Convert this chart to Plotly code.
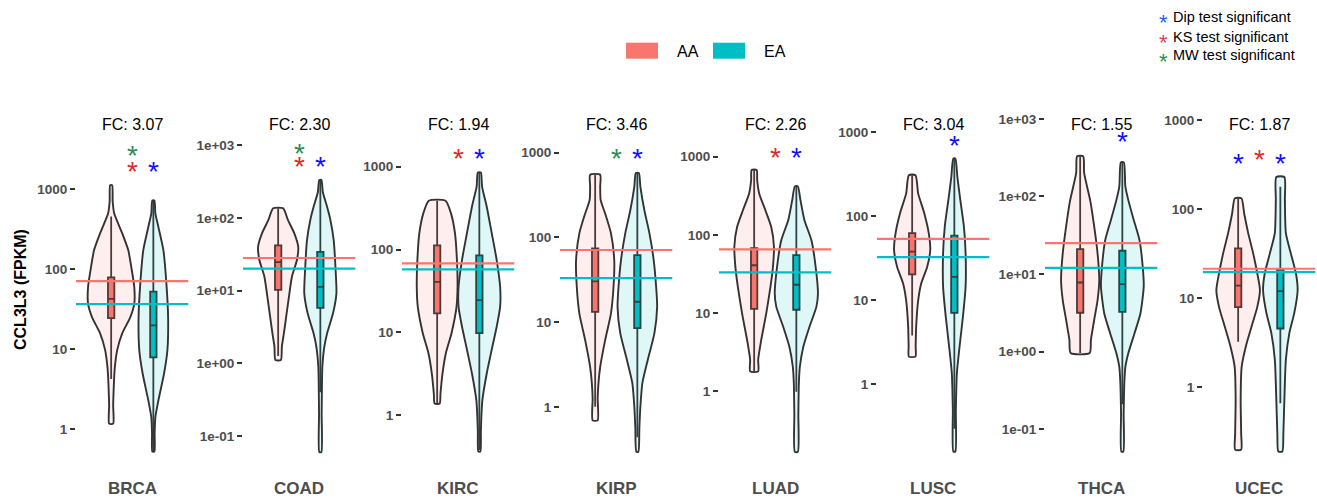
import plotly.graph_objects as go

# ---------------- data ----------------
CANCERS = ["BRCA", "COAD", "KIRC", "KIRP", "LUAD", "LUSC", "THCA", "UCEC"]
FC_LABELS = ["3.07", "2.30", "1.94", "3.46", "2.26", "3.04", "1.55", "1.87"]
GROUPS = ["AA", "EA"]

# group means (horizontal lines), FPKM
MEAN_AA = [71, 28, 68, 71, 65, 54, 25, 21.4]
MEAN_EA = [36.6, 20, 57.6, 33, 33, 32.6, 12, 19.6]

# box statistics, log10(FPKM): lower whisker, q1, median, q3, upper whisker
BOX_AA = [
    [0.63, 1.39, 1.63, 1.90, 2.66],
    [0.10, 1.01, 1.39, 1.62, 2.13],
    [0.14, 1.23, 1.61, 2.05, 2.59],
    [0.00, 1.12, 1.48, 1.87, 2.74],
    [0.25, 1.05, 1.61, 1.83, 2.83],
    [0.58, 1.31, 1.58, 1.80, 2.49],
    [-0.02, 0.50, 0.89, 1.32, 2.52],
    [0.51, 0.90, 1.14, 1.56, 2.12],
]
BOX_EA = [
    [-0.28, 0.90, 1.30, 1.72, 2.86],
    [-0.40, 0.76, 1.05, 1.53, 2.52],
    [-0.42, 0.99, 1.39, 1.93, 2.93],
    [-0.36, 0.93, 1.24, 1.79, 2.76],
    [-0.01, 1.04, 1.36, 1.74, 2.62],
    [-0.53, 0.85, 1.28, 1.77, 2.69],
    [-0.68, 0.51, 0.87, 1.30, 2.44],
    [-0.18, 0.66, 1.08, 1.32, 2.25],
]

# violin density profiles: log10(FPKM) levels (bottom -> top) and relative density
VIOLIN_AA_LEVELS = [
    [0.07, 0.30, 0.50, 0.65, 0.78, 0.99, 1.20, 1.40, 1.57, 1.78, 2.03, 2.24, 2.45, 2.70, 2.85, 3.05],
    [0.045, 0.23, 0.41, 0.64, 0.87, 1.19, 1.42, 1.60, 1.79, 1.97, 2.13],
    [0.14, 0.26, 0.50, 0.75, 0.99, 1.31, 1.55, 1.87, 2.20, 2.44, 2.59],
    [-0.16, 0.10, 0.28, 0.47, 0.79, 1.10, 1.42, 1.73, 2.05, 2.28, 2.44, 2.60, 2.74],
    [0.25, 0.40, 0.65, 0.99, 1.34, 1.59, 1.85, 2.10, 2.32, 2.53, 2.70, 2.83],
    [0.33, 0.45, 0.69, 1.00, 1.20, 1.40, 1.60, 1.80, 2.04, 2.27, 2.49],
    [-0.02, 0.15, 0.41, 0.66, 0.92, 1.27, 1.61, 1.95, 2.30, 2.52],
    [-0.70, -0.52, -0.14, 0.23, 0.46, 0.68, 0.90, 1.09, 1.28, 1.50, 1.73, 1.95, 2.12],
]
VIOLIN_AA_DENS = [
    [2, 2, 2.5, 3, 3.7, 6, 11, 19, 23, 23, 20, 17, 11, 3, 1.5, 1],
    [2.7, 3.7, 5.7, 8, 10.3, 13.7, 18.7, 20, 16, 9.7, 5],
    [2.5, 3.3, 5.3, 8.7, 14.3, 19.3, 20.3, 19.7, 17.7, 13.7, 8.3],
    [2.5, 2.5, 3.3, 5, 10, 15.7, 18.3, 19, 15.7, 10, 5.5, 5, 5],
    [4, 4, 7, 12, 16.3, 18.7, 19.7, 17, 11, 5, 3, 2.5],
    [3.3, 3.5, 4, 6, 9, 15, 18, 16.5, 12, 6, 3.3],
    [9.5, 10.7, 14, 17.3, 19, 17.3, 14, 10, 4, 3],
    [3, 3, 2.5, 3.5, 7.7, 13.3, 19, 21.7, 19, 15, 10, 6, 3.3],
]
VIOLIN_EA_LEVELS = [
    [-0.28, -0.05, 0.15, 0.36, 0.70, 0.99, 1.40, 1.82, 2.24, 2.53, 2.70, 2.86],
    [-1.22, -0.70, -0.30, -0.05, 0.23, 0.41, 0.69, 0.96, 1.33, 1.69, 1.97, 2.15, 2.35, 2.52],
    [-0.44, -0.20, -0.02, 0.18, 0.50, 0.79, 1.07, 1.31, 1.55, 1.87, 2.20, 2.52, 2.76, 2.93],
    [-0.53, -0.25, 0.00, 0.28, 0.55, 0.87, 1.18, 1.42, 1.73, 2.05, 2.32, 2.60, 2.76],
    [-0.78, -0.30, 0.10, 0.31, 0.57, 0.82, 1.08, 1.25, 1.59, 1.93, 2.19, 2.45, 2.62],
    [-0.80, -0.30, 0.13, 0.45, 0.80, 1.16, 1.56, 1.88, 2.19, 2.47, 2.69],
    [-1.29, -0.80, -0.40, -0.20, -0.02, 0.23, 0.49, 0.84, 1.09, 1.44, 1.70, 1.95, 2.13, 2.44],
    [-0.72, -0.52, -0.14, 0.31, 0.61, 0.83, 1.09, 1.28, 1.50, 1.73, 2.10, 2.36],
]
VIOLIN_EA_DENS = [
    [1, 1.3, 2, 5, 10.7, 14, 14.7, 13, 10, 5, 2, 1],
    [1, 1.3, 1.6, 2, 4, 6.7, 12.7, 16, 15, 13.3, 10, 6.7, 2.5, 1],
    [1, 1.5, 2, 3, 7.3, 12.3, 17.3, 20.7, 20.7, 17.3, 12.3, 7.3, 2.7, 1.5],
    [1, 2, 3, 5, 10.3, 17, 19.7, 18.7, 16.3, 12, 7, 3, 1.5],
    [1.5, 2, 2.5, 3.5, 7, 13, 20, 21.5, 19.2, 15, 8, 4, 1.5],
    [1, 1.5, 2.5, 5.2, 8.5, 11.2, 11.2, 9.5, 6, 3, 1],
    [1, 1.3, 2, 3, 6, 12, 18, 21.3, 20.3, 17, 11.3, 6, 3, 1.5],
    [2, 3, 4, 5.5, 9, 13.8, 17.2, 15.5, 10.5, 5.5, 4.5, 4],
]

# significance marks: (position, test, log10 height)
STARS = [
    [("mid", "MW", 3.48), ("mid", "KS", 3.285), ("EA", "Dip", 3.285)],
    [("mid", "MW", 2.955), ("mid", "KS", 2.775), ("EA", "Dip", 2.775)],
    [("mid", "KS", 3.16), ("EA", "Dip", 3.16)],
    [("mid", "MW", 2.985), ("EA", "Dip", 2.985)],
    [("mid", "KS", 3.06), ("EA", "Dip", 3.06)],
    [("EA", "Dip", 2.908)],
    [("EA", "Dip", 2.772)],
    [("AA", "Dip", 2.57), ("mid", "KS", 2.607), ("EA", "Dip", 2.57)],
]

# y axis ticks per panel
TICKS_DEC = [1, 10, 100, 1000]
TICKS_SCI = [0.1, 1, 10, 100, 1000]
SCI_TEXT = ["1e-01", "1e+00", "1e+01", "1e+02", "1e+03"]
SCI_PANELS = ["COAD", "THCA"]

# ---------------- styling / layout ----------------
COL = {"AA": "#F8766D", "EA": "#00BFC4"}
FILL = {"AA": "rgba(248,118,109,0.12)", "EA": "rgba(0,191,196,0.12)"}
STAR_COL = {"Dip": "#1010FF", "KS": "#DC2A2A", "MW": "#2E8B57"}
OUTLINE = "#333333"
XPOS = {"AA": 0.775, "mid": 1.0, "EA": 1.225}
WIDTH_SCALE = 1 / 93.3   # density units -> x data units

W, H = 1317, 501
MT, MB = 100, 41
PLOT_H = H - MT - MB
PANEL_LEFT = [76, 243, 402, 560, 719, 877, 1045, 1203]
PANEL_W = 112.5
Y_RANGES = [
    [-0.384, 4.116], [-1.330, 3.619], [-0.542, 3.806], [-0.628, 3.622],
    [-0.884, 3.726], [-0.901, 3.385], [-1.400, 3.245], [-0.816, 3.224],
]

fig = go.Figure()
annotations = []
shapes = []

for i, cancer in enumerate(CANCERS):
    xa = "x" if i == 0 else f"x{i+1}"
    ya = "y" if i == 0 else f"y{i+1}"
    levels = {"AA": VIOLIN_AA_LEVELS[i], "EA": VIOLIN_EA_LEVELS[i]}
    dens = {"AA": VIOLIN_AA_DENS[i], "EA": VIOLIN_EA_DENS[i]}
    boxes = {"AA": BOX_AA[i], "EA": BOX_EA[i]}

    # violins
    for g in GROUPS:
        c = XPOS[g]
        lv, dv = levels[g], dens[g]
        xs = [c + d * WIDTH_SCALE for d in dv] + [c - d * WIDTH_SCALE for d in reversed(dv)]
        ys = [10 ** v for v in lv] + [10 ** v for v in reversed(lv)]
        xs.append(xs[0]); ys.append(ys[0])
        fig.add_trace(go.Scatter(
            x=xs, y=ys, mode="lines", fill="toself", fillcolor=FILL[g],
            line=dict(color=OUTLINE, width=1.9, shape="spline", smoothing=0.6),
            xaxis=xa, yaxis=ya, showlegend=False, hoverinfo="skip"))
    # boxes
    for g in GROUPS:
        lo, q1, med, q3, hi = boxes[g]
        fig.add_trace(go.Box(
            x=[XPOS[g]], q1=[10 ** q1], median=[10 ** med], q3=[10 ** q3],
            lowerfence=[10 ** lo], upperfence=[10 ** hi],
            width=0.068, whiskerwidth=0, fillcolor=COL[g],
            line=dict(color=OUTLINE, width=1.8), boxpoints=False,
            xaxis=xa, yaxis=ya, showlegend=False, hoverinfo="skip"))
    # mean lines
    for g, m in (("AA", MEAN_AA[i]), ("EA", MEAN_EA[i])):
        fig.add_trace(go.Scatter(
            x=[0.4, 1.6], y=[m, m], mode="lines",
            line=dict(color=COL[g], width=2.2),
            xaxis=xa, yaxis=ya, showlegend=False, hoverinfo="skip"))

    # axes
    dom = [PANEL_LEFT[i] / W, (PANEL_LEFT[i] + PANEL_W) / W]
    key_x = "xaxis" if i == 0 else f"xaxis{i+1}"
    key_y = "yaxis" if i == 0 else f"yaxis{i+1}"
    fig.layout[key_x] = dict(domain=dom, range=[0.4, 1.6], anchor=ya,
                             showticklabels=False, ticks="", showgrid=False,
                             zeroline=False, showline=False, fixedrange=True)
    if cancer in SCI_PANELS:
        tv, tt = TICKS_SCI, SCI_TEXT
    else:
        tv, tt = TICKS_DEC, [str(t) for t in TICKS_DEC]
    fig.layout[key_y] = dict(domain=[0, 1], type="log", range=Y_RANGES[i], anchor=xa,
                             tickvals=tv, ticktext=tt, ticks="outside", ticklen=5,
                             tickwidth=2, tickcolor="#333333",
                             tickfont=dict(family="Liberation Sans", size=13.5,
                                           color="#4D4D4D", weight="bold"),
                             showgrid=False, zeroline=False, showline=False,
                             fixedrange=True)

    # FC label
    annotations.append(dict(text=f"FC: {FC_LABELS[i]}", xref=xa, x=1.0, yref="paper",
                            y=(PLOT_H - (124 - MT)) / PLOT_H, showarrow=False,
                            xanchor="center", yanchor="middle",
                            font=dict(family="Liberation Sans", size=16, color="black")))
    # cancer label
    annotations.append(dict(text=cancer, xref=xa, x=1.0, yref="paper",
                            y=-(488 - (H - MB)) / PLOT_H, showarrow=False,
                            xanchor="center", yanchor="middle",
                            font=dict(family="Liberation Sans", size=17, color="#4D4D4D",
                                      weight="bold")))
    # stars
    for pos, test, yv in STARS[i]:
        annotations.append(dict(text="*", xref=xa, x=XPOS[pos], yref=ya, y=yv,
                                showarrow=False, xanchor="center", yanchor="middle",
                                yshift=-5,
                                font=dict(family="Liberation Sans", size=28,
                                          color=STAR_COL[test])))

# y-axis title
annotations.append(dict(text="CCL3L3 (FPKM)", xref="paper", x=20 / W, yref="paper",
                        y=(H - MB - 290) / PLOT_H, textangle=-90, showarrow=False,
                        xanchor="center", yanchor="middle",
                        font=dict(family="Liberation Sans", size=16, color="black",
                                  weight="bold")))

def py(pix):
    return (H - MB - pix) / PLOT_H

def px(pix):
    return pix / W

# group legend
for g, x0, tx in (("AA", 626, 675), ("EA", 713, 762)):
    shapes.append(dict(type="rect", xref="paper", yref="paper",
                       x0=px(x0), x1=px(x0 + 32), y0=py(58.7), y1=py(42.7),
                       fillcolor=COL[g], line=dict(width=0)))
    annotations.append(dict(text=g, xref="paper", x=px(tx), yref="paper", y=py(51.5),
                            xanchor="left", yanchor="middle", showarrow=False,
                            font=dict(family="Liberation Sans", size=16, color="black")))

# test legend
LEG_STAR_COL = {"Dip": "#1F5FFF", "KS": "#E0405A", "MW": "#2E8B57"}
for test, label, yy in (("Dip", "Dip test significant", 17),
                        ("KS", "KS test significant", 37),
                        ("MW", "MW test significant", 55)):
    annotations.append(dict(text="*", xref="paper", x=px(1163), yref="paper", y=py(yy),
                            xanchor="center", yanchor="middle", showarrow=False, yshift=-6,
                            font=dict(family="Liberation Sans", size=22,
                                      color=LEG_STAR_COL[test])))
    annotations.append(dict(text=label, xref="paper", x=px(1171), yref="paper", y=py(yy),
                            xanchor="left", yanchor="middle", showarrow=False,
                            font=dict(family="Liberation Sans", size=14.5, color="black")))

fig.update_layout(
    width=W, height=H,
    margin=dict(l=0, r=0, t=MT, b=MB),
    paper_bgcolor="white", plot_bgcolor="white",
    showlegend=False,
    annotations=annotations, shapes=shapes,
    font=dict(family="Liberation Sans"),
)

fig.write_html("out.html", config={"displayModeBar": False},
               post_script="document.body.style.margin='0px';")
